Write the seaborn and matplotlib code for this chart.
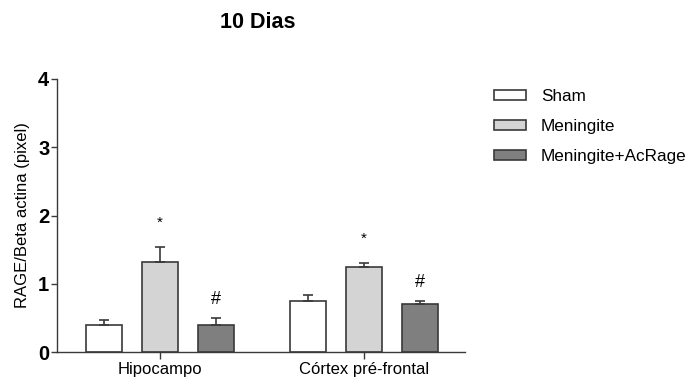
import matplotlib
matplotlib.use("Agg")
import matplotlib.pyplot as plt
import pandas as pd
import seaborn as sns

regions = ["Hipocampo", "Córtex pré-frontal"]
groups = ["Sham", "Meningite", "Meningite+AcRage"]
means = {
    "Sham": [0.40, 0.74],
    "Meningite": [1.32, 1.24],
    "Meningite+AcRage": [0.40, 0.70],
}
sems = {
    "Sham": [0.07, 0.10],
    "Meningite": [0.22, 0.06],
    "Meningite+AcRage": [0.10, 0.05],
}
marks = {
    "Sham": ["", ""],
    "Meningite": ["*", "*"],
    "Meningite+AcRage": ["#", "#"],
}
colors = ["#ffffff", "#d4d4d4", "#7f7f7f"]

rows = []
for g in groups:
    for i, r in enumerate(regions):
        rows.append({"region": r, "group": g, "value": means[g][i],
                     "sem": sems[g][i], "mark": marks[g][i]})
df = pd.DataFrame(rows)

sns.set_style("ticks")
plt.rcParams["font.family"] = ["Liberation Sans", "DejaVu Sans"]
plt.rcParams["text.color"] = "black"
plt.rcParams["axes.labelcolor"] = "black"
plt.rcParams["xtick.labelcolor"] = "black"
plt.rcParams["ytick.labelcolor"] = "black"

fig = plt.figure(figsize=(6.9, 3.78), dpi=100)
ax = fig.add_axes([57 / 690, 1 - 352 / 378, 408 / 690, 273 / 378])

edge = "#3a3a3a"
sns.barplot(data=df, x="region", y="value", hue="group", order=regions,
            hue_order=groups, palette=colors, width=0.825, gap=0.35,
            errorbar=None, edgecolor=edge, linewidth=1.2, ax=ax)

# error bars (upper only) + significance marks from the drawn bars
for patch, (_, row) in zip(ax.patches, df.iterrows()):
    cx = patch.get_x() + patch.get_width() / 2
    top = patch.get_height()
    ax.errorbar(cx, top, yerr=[[0], [row["sem"]]], fmt="none",
                ecolor=edge, elinewidth=1.2, capsize=3.3, capthick=1.2)
    if row["mark"] == "*":
        ax.text(cx, top + row["sem"] + 0.36, "*", ha="center", va="center",
                fontsize=11)
    elif row["mark"] == "#":
        ax.text(cx, top + row["sem"] + 0.27, "#", ha="center", va="center",
                fontsize=13)

ax.set_ylim(0, 4)
ax.set_xlim(-0.505, 1.495)
ax.set_yticks([0, 1, 2, 3, 4])
ax.set_yticklabels(["0", "1", "2", "3", "4"], fontweight="bold", fontsize=14.5)
ax.tick_params(axis="x", labelsize=12, length=5, width=1, color=edge, pad=2)
ax.tick_params(axis="y", length=4, width=1, color=edge, pad=1.5)
ax.set_xlabel("")
ax.set_ylabel("RAGE/Beta actina (pixel)", fontsize=12, labelpad=6)
for s in ["left", "bottom"]:
    ax.spines[s].set_color(edge)
    ax.spines[s].set_linewidth(1.0)
sns.despine(ax=ax)

fig.text(258 / 690, 1 - 23 / 378, "10 Dias", ha="center", va="center",
         fontsize=15.5, fontweight="bold")

handles, labels = ax.get_legend_handles_labels()
ax.legend(handles, labels, loc="upper left", bbox_to_anchor=(494 / 690, 1 - 89 / 378),
          bbox_transform=fig.transFigure, frameon=False, fontsize=12.3,
          borderpad=0, borderaxespad=0,
          handlelength=1.85, handleheight=0.6, labelspacing=0.88, handletextpad=0.9)

fig.savefig("out.png", dpi=100)
